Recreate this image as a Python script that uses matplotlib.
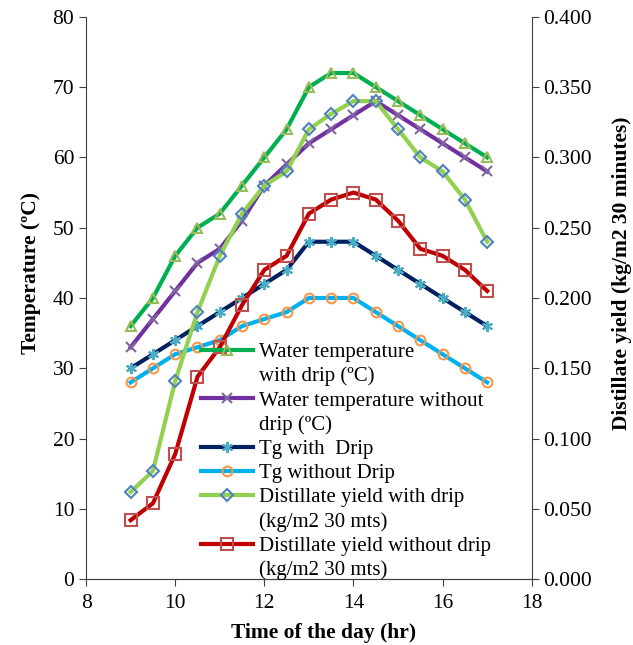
import matplotlib.pyplot as plt
from matplotlib.lines import Line2D
from matplotlib.ticker import FormatStrFormatter

plt.rcParams['font.family'] = ['Liberation Serif', 'DejaVu Serif']

# time of the day (hr)
time = [9, 9.5, 10, 10.5, 11, 11.5, 12, 12.5, 13, 13.5, 14, 14.5, 15, 15.5, 16, 16.5, 17]

# temperatures (ºC), left axis
water_with_drip = [36, 40, 46, 50, 52, 56, 60, 64, 70, 72, 72, 70, 68, 66, 64, 62, 60]
water_without_drip = [33, 37, 41, 45, 47, 51, 56, 59, 62, 64, 66, 68, 66, 64, 62, 60, 58]
tg_with_drip = [30, 32, 34, 36, 38, 40, 42, 44, 48, 48, 48, 46, 44, 42, 40, 38, 36]
tg_without_drip = [28, 30, 32, 33, 34, 36, 37, 38, 40, 40, 40, 38, 36, 34, 32, 30, 28]

# distillate yield (kg/m2 30 minutes), right axis
yield_with_drip = [0.062, 0.077, 0.141, 0.190, 0.230, 0.260, 0.280, 0.290, 0.320,
                   0.331, 0.340, 0.340, 0.320, 0.300, 0.290, 0.270, 0.240]
yield_without_drip = [0.042, 0.054, 0.089, 0.144, 0.165, 0.195, 0.220, 0.230, 0.260,
                      0.270, 0.275, 0.270, 0.255, 0.235, 0.230, 0.220, 0.205]

# legend text, each label split over its lines (Excel style wrapping)
labels = [["Water temperature", "with drip (ºC)"],
          ["Water temperature without", "drip (ºC)"],
          ["Tg with  Drip"],
          ["Tg without Drip"],
          ["Distillate yield with drip", "(kg/m2 30 mts)"],
          ["Distillate yield without drip", "(kg/m2 30 mts)"]]

fig = plt.figure(figsize=(6.33, 6.45), dpi=100)
ax = fig.add_axes([0.136, 0.102, 0.704, 0.872])
ax2 = ax.twinx()

lw = 3
ms = 7
h1, = ax.plot(time, water_with_drip, color='#00B050', lw=lw, marker='^', ms=ms,
              mfc='none', mec='#9BBB59', mew=1.5)
h2, = ax.plot(time, water_without_drip, color='#7030A0', lw=lw, marker='x', ms=ms,
              mec='#8064A2', mew=1.5)
h3, = ax.plot(time, tg_with_drip, color='#002060', lw=lw, marker=(6, 2, 0), ms=ms + 1,
              mec='#4BACC6', mew=1.5)
h4, = ax.plot(time, tg_without_drip, color='#00B0F0', lw=lw, marker='o', ms=ms,
              mfc='none', mec='#F79646', mew=1.5)
h5, = ax2.plot(time, yield_with_drip, color='#92D050', lw=lw, marker='D', ms=ms - 1,
               mfc='none', mec='#4F81BD', mew=1.5)
h6, = ax2.plot(time, yield_without_drip, color='#C00000', lw=lw, marker='s', ms=ms + 1,
               mfc='none', mec='#C0504D', mew=1.5)

# axes limits and ticks
ax.set_xlim(8, 18)
ax.set_ylim(0, 80)
ax2.set_ylim(0, 0.4)
ax.set_xticks(range(8, 19, 2))
ax.set_yticks(range(0, 81, 10))
ax2.set_yticks([i * 0.05 for i in range(9)])
ax2.yaxis.set_major_formatter(FormatStrFormatter('%.3f'))

for a in (ax, ax2):
    a.spines['top'].set_visible(False)
    for s in a.spines.values():
        s.set_color('#404040')
    a.tick_params(labelsize=15.5, color='#404040', length=5)
ax.tick_params(axis='x', pad=6)
ax.spines['right'].set_visible(False)
ax2.spines['left'].set_visible(False)

ax.set_xlabel("Time of the day (hr)", fontsize=15.5, fontweight='bold', x=0.534, labelpad=7)
ax.set_ylabel("Temperature (ºC)", fontsize=15.5, fontweight='bold', y=0.544, labelpad=8)
ax2.set_ylabel("Distillate yield (kg/m2 30 minutes)", fontsize=15.5, fontweight='bold',
               y=0.544, labelpad=14)

# legend: one row per text line, handle on the first line of each entry
blank = Line2D([], [], color='none')
handles, texts = [], []
for h, lab in zip([h1, h2, h3, h4, h5, h6], labels):
    for i, line in enumerate(lab):
        handles.append(h if i == 0 else blank)
        texts.append(line)

ax2.legend(handles, texts, loc='upper left',
           bbox_to_anchor=(0.318, 0.469), bbox_transform=fig.transFigure,
           frameon=False, fontsize=15, handlelength=2.5, handletextpad=0.25,
           labelspacing=0.22, borderpad=0, borderaxespad=0)

plt.savefig("out.png", dpi=100)
